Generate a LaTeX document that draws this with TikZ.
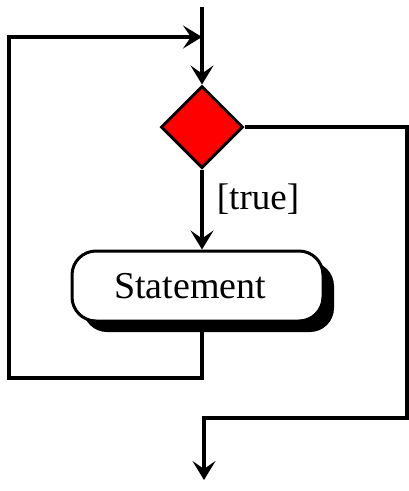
\documentclass[tikz,border=0pt]{standalone}
\usepackage{fontspec}
\setmainfont{Liberation Serif}
\usetikzlibrary{arrows.meta,shapes.geometric,shadows}
\begin{document}
\begin{tikzpicture}[x=1pt,y=1pt,
  conn/.style={line width=4pt},
  arr/.style={conn,-{Stealth[length=19pt,width=23pt,inset=8pt]}},
  dec/.style={diamond,draw,line width=3pt,fill=red,minimum width=82pt,minimum height=82pt,inner sep=0pt,aspect=1},
  stmt/.style={draw,line width=3pt,fill=white,rounded corners=24pt,minimum width=251pt,minimum height=70pt,inner sep=0pt,
    font=\fontsize{38}{42}\selectfont,
    drop shadow={shadow xshift=11pt,shadow yshift=-11pt,fill=black,opacity=1}},
  lbl/.style={font=\fontsize{37}{41}\selectfont,inner sep=0pt}]
\useasboundingbox (0,0) rectangle (409,-491);
\coordinate (top) at (202,-7);
\coordinate (join) at (202,-37);
\coordinate (lb) at (9,-378);
\coordinate (lt) at (9,-37);
\coordinate (rt) at (407,-418);
\coordinate (out) at (204,-480);
\node[dec] (d) at (202,-127) {};
\node[stmt] (s) at (197.5,-286) {Statement\hspace*{15pt}};
\node[lbl] (t) at (258,-199) {[true]};
\draw[arr] (top) -- (d.north);
\draw[arr] (d.south) -- (s.north -| d.south);
\draw[arr] (d.south |- s.south) |- (lb) -- (lt) -- (join);
\draw[arr] (d.east) -| (rt) -| (out);
\end{tikzpicture}
\end{document}
